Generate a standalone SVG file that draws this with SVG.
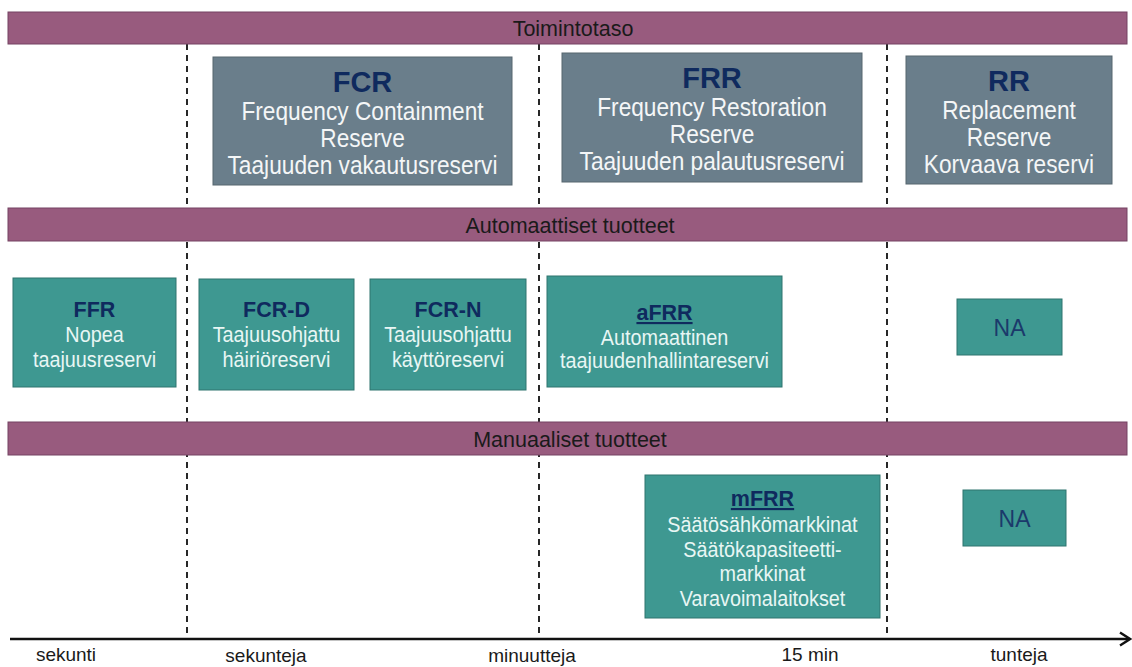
<svg xmlns="http://www.w3.org/2000/svg" width="1132" height="667" viewBox="0 0 1132 667">
<defs>
<style>
.bg{fill:#ffffff}
.band{fill:#985B7E;stroke:#744362;stroke-width:1}
.bandtxt{font-family:"Liberation Sans",Arial,sans-serif;font-size:21.5px;fill:#1a1a1a;text-anchor:middle}
.grey{fill:#6A7E8B;stroke:#56666F;stroke-width:1}
.teal{fill:#3E9891;stroke:#2E746F;stroke-width:1}
.gt{font-family:"Liberation Sans",Arial,sans-serif;font-size:29px;font-weight:bold;fill:#0F2A5E;text-anchor:middle}
.gb{font-family:"Liberation Sans",Arial,sans-serif;font-size:22.7px;fill:#F4F6F7;text-anchor:middle}
.tt{font-family:"Liberation Sans",Arial,sans-serif;font-size:21.5px;font-weight:bold;fill:#0F2A5E;text-anchor:middle}
.tb{font-family:"Liberation Sans",Arial,sans-serif;font-size:19.8px;fill:#E8F6F4;text-anchor:middle}
.na{font-family:"Liberation Sans",Arial,sans-serif;font-size:23px;fill:#1B3A6B;text-anchor:middle}
.ax{font-family:"Liberation Sans",Arial,sans-serif;font-size:19px;fill:#1a1a1a;text-anchor:middle}
.dash{stroke:#111;stroke-width:1.8;stroke-dasharray:6 5;fill:none}
</style>
</defs>
<rect class="bg" x="0" y="0" width="1132" height="667"/>
<g id="connectors">
<line class="dash" x1="187" y1="44" x2="187" y2="637"/>
<line class="dash" x1="539" y1="44" x2="539" y2="637"/>
<line class="dash" x1="887" y1="44" x2="887" y2="637"/>
<line x1="10" y1="639" x2="1128" y2="639" stroke="#111" stroke-width="2.6"/>
<polyline points="1120,632.5 1130,639 1120,645.5" fill="none" stroke="#111" stroke-width="2.4"/>
</g>
<g id="band-toimintotaso">
<rect class="band" x="8" y="12" width="1119" height="32"/>
<text class="bandtxt" x="573" y="35.5">Toimintotaso</text>
</g>
<g id="band-automaattiset">
<rect class="band" x="8" y="208" width="1119" height="33"/>
<text class="bandtxt" x="570" y="232.5">Automaattiset tuotteet</text>
</g>
<g id="band-manuaaliset">
<rect class="band" x="8" y="422" width="1119" height="33"/>
<text class="bandtxt" x="570" y="446.5">Manuaaliset tuotteet</text>
</g>
<g id="node-fcr">
<rect class="grey" x="213" y="57" width="299" height="128"/>
<text class="gt" x="362.5" y="91.7">FCR</text>
<text class="gb" transform="translate(362.5 120) scale(1 1.12)">Frequency Containment</text>
<text class="gb" transform="translate(362.5 147) scale(1 1.12)">Reserve</text>
<text class="gb" transform="translate(362.5 174) scale(1 1.12)">Taajuuden vakautusreservi</text>
</g>
<g id="node-frr">
<rect class="grey" x="562" y="53" width="300" height="129"/>
<text class="gt" x="712" y="88">FRR</text>
<text class="gb" transform="translate(712 116) scale(1 1.12)">Frequency Restoration</text>
<text class="gb" transform="translate(712 143) scale(1 1.12)">Reserve</text>
<text class="gb" transform="translate(712 170) scale(1 1.12)">Taajuuden palautusreservi</text>
</g>
<g id="node-rr">
<rect class="grey" x="906" y="56" width="206" height="128"/>
<text class="gt" x="1009" y="91">RR</text>
<text class="gb" transform="translate(1009 119) scale(1 1.12)">Replacement</text>
<text class="gb" transform="translate(1009 146) scale(1 1.12)">Reserve</text>
<text class="gb" transform="translate(1009 173) scale(1 1.12)">Korvaava reservi</text>
</g>
<g id="node-ffr">
<rect class="teal" x="13" y="278" width="163" height="109"/>
<text class="tt" x="94.5" y="316.7">FFR</text>
<text class="tb" transform="translate(94.5 341.7) scale(1 1.1)">Nopea</text>
<text class="tb" transform="translate(94.5 366.7) scale(1 1.1)">taajuusreservi</text>
</g>
<g id="node-fcr-d">
<rect class="teal" x="199" y="279" width="155" height="111"/>
<text class="tt" x="276.5" y="316.7">FCR-D</text>
<text class="tb" transform="translate(276.5 341.7) scale(1 1.1)">Taajuusohjattu</text>
<text class="tb" transform="translate(276.5 366.7) scale(1 1.1)">häiriöreservi</text>
</g>
<g id="node-fcr-n">
<rect class="teal" x="370" y="279" width="156" height="111"/>
<text class="tt" x="448" y="316.7">FCR-N</text>
<text class="tb" transform="translate(448 341.7) scale(1 1.1)">Taajuusohjattu</text>
<text class="tb" transform="translate(448 366.7) scale(1 1.1)">käyttöreservi</text>
</g>
<g id="node-afrr">
<rect class="teal" x="547" y="276" width="235" height="111"/>
<text class="tt" x="664.5" y="320" text-decoration="underline">aFRR</text>
<text class="tb" transform="translate(664.5 345) scale(1 1.1)">Automaattinen</text>
<text class="tb" transform="translate(664.5 368) scale(1 1.1)">taajuudenhallintareservi</text>
</g>
<g id="node-na-auto">
<rect class="teal" x="957" y="299" width="105" height="56"/>
<text class="na" x="1009.5" y="335.5">NA</text>
</g>
<g id="node-mfrr">
<rect class="teal" x="645" y="475" width="235" height="143"/>
<text class="tt" x="762.5" y="506" text-decoration="underline">mFRR</text>
<text class="tb" transform="translate(762.5 532) scale(1 1.1)">Säätösähkömarkkinat</text>
<text class="tb" transform="translate(762.5 556.5) scale(1 1.1)">Säätökapasiteetti-</text>
<text class="tb" transform="translate(762.5 581) scale(1 1.1)">markkinat</text>
<text class="tb" transform="translate(762.5 605.5) scale(1 1.1)">Varavoimalaitokset</text>
</g>
<g id="node-na-manual">
<rect class="teal" x="963" y="490" width="103" height="56"/>
<text class="na" x="1014.5" y="526.5">NA</text>
</g>
<g id="axis-labels">
<text class="ax" x="66" y="661">sekunti</text>
<text class="ax" x="266" y="662">sekunteja</text>
<text class="ax" x="532" y="662">minuutteja</text>
<text class="ax" x="810" y="661">15 min</text>
<text class="ax" x="1019" y="661">tunteja</text>
</g>
</svg>
